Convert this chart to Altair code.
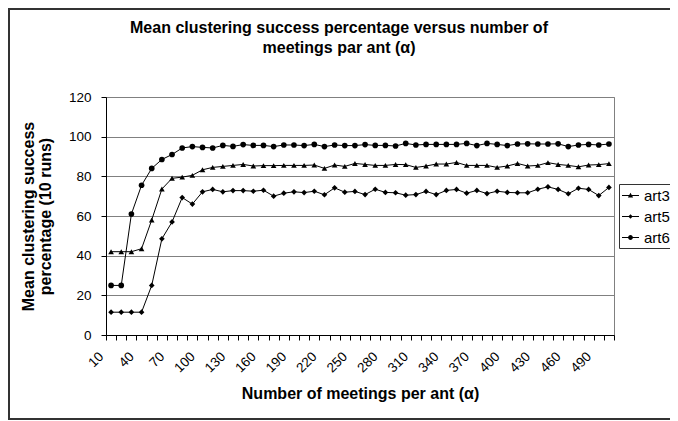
import altair as alt
import pandas as pd

meetings = list(range(10, 501, 10))
series_names = ["art3", "art5", "art6"]
art3 = [42, 42, 42, 43.5, 58, 73.6, 79, 79.6, 80.5, 83.3,
        84.5, 85, 85.5, 86, 85.2, 85.4, 85.4, 85.5, 85.5, 85.5,
        85.7, 84, 85.7, 85, 86.5, 86, 85.5, 85.5, 86, 85.9,
        84.5, 85.2, 86.2, 86.2, 87, 85.5, 85.5, 85.5, 84.5, 85.2,
        86.5, 85.2, 85.5, 86.9, 86, 85.5, 84.8, 85.7, 85.9, 86.4]
art5 = [11.5, 11.5, 11.5, 11.5, 25, 48.5, 57, 69.3, 66, 72.2,
        73.4, 72.2, 72.8, 72.8, 72.5, 73, 70, 71.5, 72.2, 71.8,
        72.5, 70.7, 74.2, 72, 72.4, 70.8, 73.5, 71.9, 71.7, 70.5,
        70.8, 72.4, 70.8, 72.9, 73.4, 71.5, 72.9, 71.3, 72.5, 71.9,
        71.7, 71.7, 73.5, 74.7, 73.4, 71.2, 74, 73.4, 70.3, 74.4]
art6 = [25, 25, 61, 75.5, 84, 88.5, 91, 94.3, 95, 94.6,
        94.3, 95.6, 95.1, 96, 95.6, 95.6, 95, 95.8, 95.8, 95.5,
        96.1, 95, 95.8, 95.5, 95.5, 96, 95.6, 95.6, 95.3, 96.6,
        95.8, 96.1, 96.1, 96.1, 96.1, 96.6, 95.5, 96.6, 96.1, 95.5,
        96.3, 96.4, 96.3, 96.3, 96.4, 95, 95.8, 96.1, 95.8, 96.3]
y_ticks = [0, 20, 40, 60, 80, 100, 120]
tick_edges = [m - 5 for m in meetings] + [meetings[-1] + 5]

rows = []
for name, vals in zip(series_names, [art3, art5, art6]):
    for m, v in zip(meetings, vals):
        rows.append({"meetings": m, "value": v, "series": name})
df = pd.DataFrame(rows)

FONT = "Liberation Sans"

x_enc = alt.X(
    "meetings:Q",
    scale=alt.Scale(domain=[5, 505], nice=False, zero=False),
    axis=alt.Axis(
        values=tick_edges,
        labelExpr="(datum.value - 5) % 30 == 0 ? '' + (datum.value + 5) : ''",
        labelAngle=-45, labelAlign="right", labelBaseline="middle",
        labelOffset=-5, labelPadding=14, labelOverlap=False, labelFlush=False,
        labelBound=False, tickSize=5, grid=False,
        labelFontSize=13.5, titleFontSize=16, titlePadding=11,
    ),
    title="Number of meetings per ant (α)",
)
y_enc = alt.Y(
    "value:Q",
    scale=alt.Scale(domain=[0, 120], nice=False),
    axis=alt.Axis(
        values=y_ticks, grid=True, gridColor="#808080", tickSize=5,
        labelPadding=10, labelFontSize=13.5, titleFontSize=16, titlePadding=15,
        titleLineHeight=17,
    ),
    title=["Mean clustering success", "percentage (10 runs)"],
)

base = alt.Chart(df)

lines = base.mark_line(color="black", strokeWidth=1).encode(
    x=x_enc, y=y_enc, detail="series:N"
)

points = base.mark_point(filled=True, color="black", size=32, opacity=1).encode(
    x=x_enc, y=y_enc,
    shape=alt.Shape("series:N",
                    scale=alt.Scale(domain=series_names,
                                    range=["triangle-up", "diamond", "circle"]),
                    legend=None),
)

# legend symbols: a thin filled bar (the line) plus a small filled marker
bar = "M-1,-0.06H1V0.06H-1Z"
legend_paths = [
    bar + "M0,-0.33L0.31,0.23L-0.31,0.23Z",
    bar + "M0,-0.26L0.26,0L0,0.26L-0.26,0Z",
    bar + "M0.28,0A0.28,0.28 0 1 1 -0.28,0A0.28,0.28 0 1 1 0.28,0Z",
]

legend_layer = base.transform_filter("false").mark_point(
    filled=True, color="black", opacity=1
).encode(
    x=x_enc, y=y_enc,
    shape=alt.Shape("series:N",
                    scale=alt.Scale(domain=series_names, range=legend_paths),
                    legend=alt.Legend(
                        title=None, orient="none", legendX=513, legendY=87,
                        symbolSize=289, symbolFillColor="black",
                        labelFont=FONT, labelFontSize=15, labelColor="black",
                        labelOffset=4, strokeColor="#333333", fillColor="white",
                        padding=2, rowPadding=3,
                    )),
)

frame_df = pd.DataFrame({"k": [0]})
frame = alt.Chart(frame_df).mark_rect(
    fill=None, stroke="#333333", strokeWidth=2
).encode(
    x=alt.value(-97), x2=alt.value(580), y=alt.value(-88), y2=alt.value(322)
)

chart = alt.layer(frame, lines, points, legend_layer).resolve_scale(
    shape="independent"
).properties(
    width=508, height=238,
    padding={"left": 98, "top": 89, "right": 56, "bottom": 86},
    autosize=alt.AutoSizeParams(type="none"),
    title=alt.Title(
        ["Mean clustering success percentage versus number of", "meetings par ant (α)"],
        font=FONT, fontSize=16, fontWeight="bold", color="black",
        anchor="middle", dx=-21, dy=48, offset=0, lineHeight=20,
    ),
).configure_view(
    stroke="#808080", strokeWidth=1
).configure_axis(
    domainColor="black", tickColor="black", labelColor="black", titleColor="black",
    labelFont=FONT, titleFont=FONT, titleFontWeight="bold",
).configure_legend(
    strokeColor="#333333", strokeWidth=1, fillColor="white",
    symbolFillColor="black", symbolSize=289, padding=2,
)

chart.save("out.html", embed_options={"renderer": "svg", "actions": False})
